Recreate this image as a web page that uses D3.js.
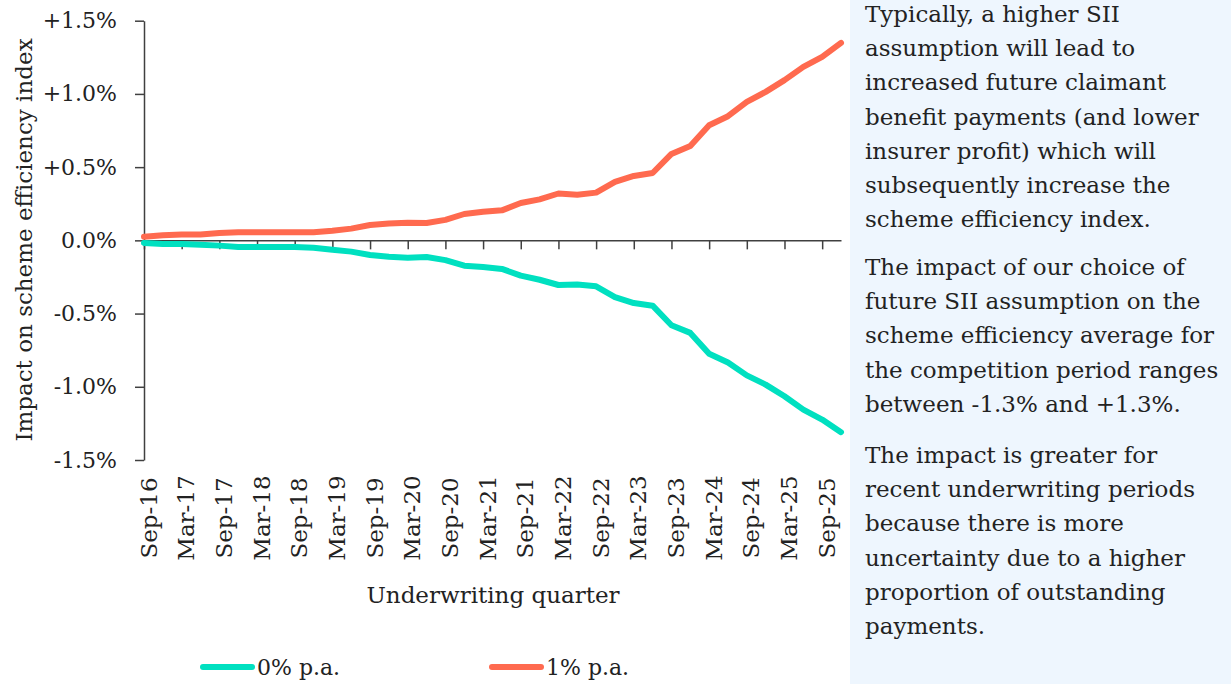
<!DOCTYPE html>
<html>
<head>
<meta charset="utf-8">
<script src="https://cdn.jsdelivr.net/npm/d3@7"></script>
<style>
body { margin: 0; background: #fff; }
text { font-family: "DejaVu Serif", serif; fill: #222; }
</style>
</head>
<body>
<div id="chart"></div>
<script>
var quarters = ["Sep-16","Dec-16","Mar-17","Jun-17","Sep-17","Dec-17","Mar-18","Jun-18",
    "Sep-18","Dec-18","Mar-19","Jun-19","Sep-19","Dec-19","Mar-20","Jun-20","Sep-20","Dec-20",
    "Mar-21","Jun-21","Sep-21","Dec-21","Mar-22","Jun-22","Sep-22","Dec-22","Mar-23","Jun-23",
    "Sep-23","Dec-23","Mar-24","Jun-24","Sep-24","Dec-24","Mar-25","Jun-25","Sep-25","Dec-25"];

var zeroPa = [-0.018,-0.025,-0.025,-0.03,-0.036,-0.045,-0.045,-0.045,-0.045,-0.05,
    -0.064,-0.077,-0.10,-0.112,-0.118,-0.114,-0.135,-0.173,-0.182,-0.195,
    -0.241,-0.269,-0.305,-0.301,-0.314,-0.387,-0.428,-0.446,-0.58,-0.632,
    -0.774,-0.834,-0.922,-0.985,-1.065,-1.156,-1.224,-1.31];

var onePa = [0.025,0.035,0.04,0.04,0.05,0.055,0.055,0.055,0.055,0.055,
    0.065,0.08,0.105,0.115,0.12,0.118,0.14,0.18,0.195,0.205,
    0.255,0.28,0.32,0.312,0.326,0.40,0.44,0.46,0.59,0.645,
    0.786,0.848,0.945,1.014,1.094,1.185,1.253,1.349];

var seriesNames = ["0% p.a.", "1% p.a."];
var seriesColors = ["#00e0c0", "#ff6a4f"];
var yTicks = [-1.5, -1.0, -0.5, 0, 0.5, 1.0, 1.5];

var notes = [
    ["Typically, a higher SII", "assumption will lead to", "increased future claimant",
     "benefit payments (and lower", "insurer profit) which will",
     "subsequently increase the", "scheme efficiency index."],
    ["The impact of our choice of", "future SII assumption on the",
     "scheme efficiency average for", "the competition period ranges",
     "between -1.3% and +1.3%."],
    ["The impact is greater for", "recent underwriting periods", "because there is more",
     "uncertainty due to a higher", "proportion of outstanding", "payments."]
];

var svg = d3.select("#chart")
    .append("svg")
    .attr("width", 1231)
    .attr("height", 684);

// side panel
svg.append("rect")
    .attr("x", 850)
    .attr("y", 0)
    .attr("width", 381)
    .attr("height", 684)
    .attr("fill", "#eef6fe");

var x = d3.scalePoint()
    .domain(quarters)
    .range([144, 841]);

var y = d3.scaleLinear()
    .domain([-1.5, 1.5])
    .range([460, 20.7]);

var y0 = y(0);

var yAxis = svg.append("g")
    .attr("transform", "translate(144,0)")
    .call(d3.axisLeft(y)
        .tickValues(yTicks)
        .tickSize(9)
        .tickSizeOuter(0)
        .tickPadding(18)
        .tickFormat(d => (d > 0 ? "+" : "") + d.toFixed(1) + "%"));

var xAxis = svg.append("g")
    .attr("transform", `translate(0,${y0})`)
    .call(d3.axisBottom(x)
        .tickValues(quarters.filter((d, i) => i % 2 == 0))
        .tickSize(9)
        .tickSizeOuter(0));

svg.selectAll(".domain, .tick line")
    .attr("stroke", "#404040")
    .attr("stroke-width", 1.5);

svg.selectAll(".tick text")
    .attr("font-family", "DejaVu Serif")
    .attr("font-size", "22px")
    .attr("fill", "#222");

xAxis.selectAll("text")
    .attr("x", 0)
    .attr("y", 0)
    .attr("dy", 0)
    .attr("font-size", "23px")
    .attr("text-anchor", "middle")
    .attr("transform", `translate(12,${518 - y0}) rotate(-90)`);

var line = d3.line()
    .x((d, i) => x(quarters[i]))
    .y(d => y(d));

[zeroPa, onePa].forEach(function(vals, k) {
    svg.append("path")
        .datum(vals)
        .attr("d", line)
        .attr("fill", "none")
        .attr("stroke", seriesColors[k])
        .attr("stroke-width", 6)
        .attr("stroke-linecap", "round")
        .attr("stroke-linejoin", "round");
});

svg.append("text")
    .attr("transform", "translate(32,240) rotate(-90)")
    .attr("text-anchor", "middle")
    .attr("font-size", "23px")
    .text("Impact on scheme efficiency index");

svg.append("text")
    .attr("x", 493)
    .attr("y", 603)
    .attr("text-anchor", "middle")
    .attr("font-size", "23px")
    .text("Underwriting quarter");

// legend
var legend = svg.selectAll(".legend")
    .data(seriesNames)
    .enter()
    .append("g")
    .attr("class", "legend")
    .attr("transform", (d, i) => `translate(${203 + i * 289},667)`);

legend.append("line")
    .attr("x1", 0)
    .attr("x2", 49)
    .attr("stroke", (d, i) => seriesColors[i])
    .attr("stroke-width", 6)
    .attr("stroke-linecap", "round");

legend.append("text")
    .attr("x", 54)
    .attr("y", 8)
    .attr("font-size", "22px")
    .text(d => d);

// notes
var starts = [22, 275, 463];
notes.forEach(function(lines, p) {
    svg.append("g")
        .selectAll("text")
        .data(lines)
        .enter()
        .append("text")
        .attr("x", 865)
        .attr("y", (d, i) => starts[p] + i * 34.2)
        .attr("font-size", "23px")
        .text(d => d);
});
</script>
</body>
</html>
